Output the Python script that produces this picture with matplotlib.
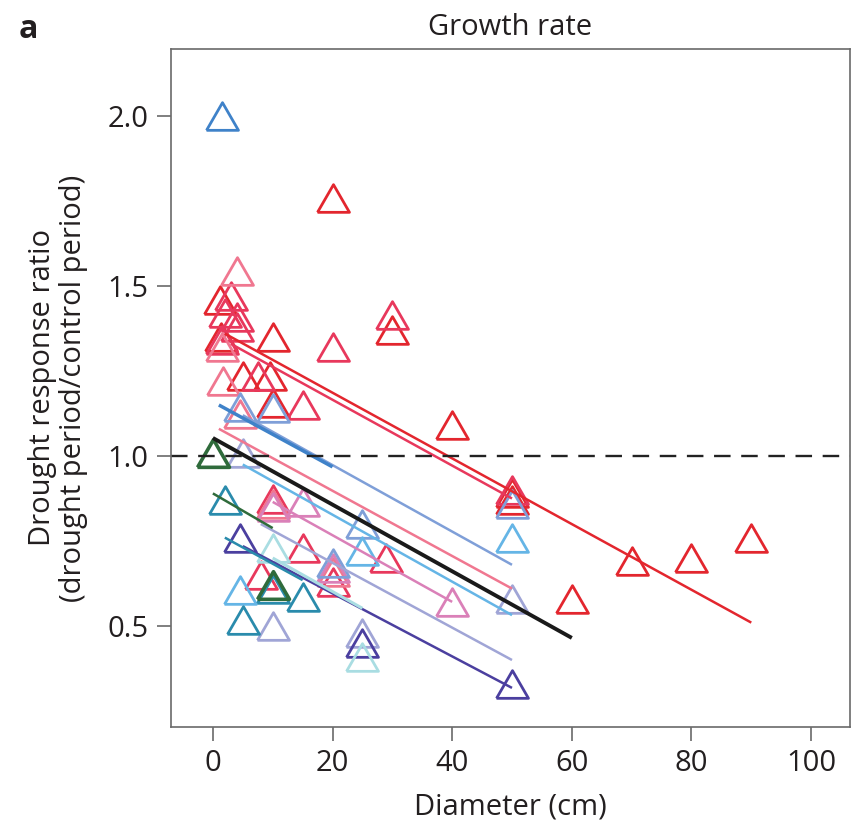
import numpy as np
import matplotlib
matplotlib.use("Agg")
import matplotlib.pyplot as plt

plt.rcParams['font.family'] = ['Open Sans', 'DejaVu Sans']

# triangles, one pair of lists per colour group (diameter cm, response ratio)
red_x = [1.2, 1.4, 10, 5, 9.5, 10, 20, 30, 40, 50, 50, 60, 70, 80, 90]
red_y = [1.46, 1.35, 1.35, 1.235, 1.235, 1.155, 1.76, 1.37, 1.09, 0.89, 0.87, 0.58, 0.69, 0.70, 0.76]
pinkred_x = [3, 2, 4, 4, 1.5, 7.5, 15, 20, 30, 50, 10, 15, 29, 8, 20]
pinkred_y = [1.47, 1.42, 1.41, 1.38, 1.34, 1.235, 1.15, 1.32, 1.415, 0.90, 0.875, 0.73, 0.70, 0.65, 0.63]
lightpink_x = [4, 1.5, 1.7, 4.5, 10, 20]
lightpink_y = [1.545, 1.32, 1.22, 1.125, 0.86, 0.66]
magenta_x = [15, 20, 40, 10]
magenta_y = [0.866, 0.67, 0.57, 0.85]
steel_x = [4.5, 10, 25, 50, 20]
steel_y = [1.145, 1.14, 0.80, 0.86, 0.685]
blue_x = [1.5]
blue_y = [2.0]
lightblue_x = [25, 50, 4.5]
lightblue_y = [0.72, 0.76, 0.606]
lavender_x = [5, 10, 25, 50]
lavender_y = [1.01, 0.50, 0.48, 0.58]
purple_x = [4.5, 25, 50]
purple_y = [0.758, 0.45, 0.33]
teal_x = [2, 10, 15, 5]
teal_y = [0.87, 0.61, 0.586, 0.518]
green_x = [0, 10]
green_y = [1.01, 0.62]
cyan_x = [10, 25]
cyan_y = [0.728, 0.41]

# fitted lines (start and end)
red_fit_x, red_fit_y = [2, 90], [1.36, 0.51]
pinkred_fit_x, pinkred_fit_y = [3, 50], [1.33, 0.875]
lightpink_fit_x, lightpink_fit_y = [1, 50], [1.08, 0.61]
magenta_fit_x, magenta_fit_y = [10, 40], [0.865, 0.571]
steel_fit_x, steel_fit_y = [5, 50], [1.12, 0.68]
blue_fit_x, blue_fit_y = [1, 20], [1.15, 0.968]
lightblue_fit_x, lightblue_fit_y = [5, 50], [0.975, 0.532]
lavender_fit_x, lavender_fit_y = [8, 50], [0.80, 0.40]
purple_fit_x, purple_fit_y = [5, 50], [0.735, 0.318]
teal_fit_x, teal_fit_y = [2, 15], [0.76, 0.635]
green_fit_x, green_fit_y = [0, 10], [0.89, 0.788]
cyan_fit_x, cyan_fit_y = [10, 25], [0.70, 0.552]
all_fit_x, all_fit_y = [0, 60], [1.053, 0.465]

colors = {
    'red': '#e3262e', 'pinkred': '#e8385c', 'lightpink': '#f07790',
    'magenta': '#da80b8', 'steel': '#7f9fd8', 'blue': '#3f82c9',
    'lightblue': '#65b5e6', 'lavender': '#a0a5d6', 'purple': '#4b3f9f',
    'teal': '#2a8bac', 'green': '#2f6b3b', 'cyan': '#a9dde2',
}

groups = [
    ('red', red_x, red_y), ('pinkred', pinkred_x, pinkred_y),
    ('lightpink', lightpink_x, lightpink_y), ('magenta', magenta_x, magenta_y),
    ('steel', steel_x, steel_y), ('blue', blue_x, blue_y),
    ('lightblue', lightblue_x, lightblue_y), ('lavender', lavender_x, lavender_y),
    ('purple', purple_x, purple_y), ('teal', teal_x, teal_y),
    ('cyan', cyan_x, cyan_y), ('green', green_x, green_y),
]
fits = [
    ('red', red_fit_x, red_fit_y, 1.8), ('pinkred', pinkred_fit_x, pinkred_fit_y, 1.8),
    ('lightpink', lightpink_fit_x, lightpink_fit_y, 1.8),
    ('magenta', magenta_fit_x, magenta_fit_y, 1.8),
    ('steel', steel_fit_x, steel_fit_y, 1.8), ('blue', blue_fit_x, blue_fit_y, 2.5),
    ('lightblue', lightblue_fit_x, lightblue_fit_y, 1.8),
    ('lavender', lavender_fit_x, lavender_fit_y, 1.8),
    ('purple', purple_fit_x, purple_fit_y, 1.8), ('teal', teal_fit_x, teal_fit_y, 1.8),
    ('cyan', cyan_fit_x, cyan_fit_y, 2.2), ('green', green_fit_x, green_fit_y, 1.8),
]

# equilateral triangle marker
tri = [(-1, -0.866), (1, -0.866), (0, 0.866), (-1, -0.866)]

fig = plt.figure(figsize=(8.51, 8.38), dpi=100)
ax = fig.add_axes([171 / 851, 1 - 727 / 838, 679 / 851, 678 / 838])

for name, xs, ys in groups:
    mew = 2.6 if name == 'green' else 2.0
    ax.plot(xs, ys, linestyle='none', marker=tri, markersize=23,
            markerfacecolor='none', markeredgecolor=colors[name], markeredgewidth=mew)

for name, xs, ys, lw in fits:
    ax.plot(xs, ys, color=colors[name], lw=lw, solid_capstyle='butt')

ax.plot(all_fit_x, all_fit_y, color='#1a1a1a', lw=2.8, solid_capstyle='butt')
ax.axhline(1.0, color='#222222', lw=1.7, dashes=(7, 4.5))

ax.set_xlim(-7.0, 106.5)
ax.set_ylim(0.203, 2.197)
ax.set_xticks([0, 20, 40, 60, 80, 100])
ax.set_yticks([0.5, 1.0, 1.5, 2.0])
ax.set_yticklabels(['0.5', '1.0', '1.5', '2.0'])
for s in ax.spines.values():
    s.set_color('#6a6a6a')
    s.set_linewidth(1.2)
ax.tick_params(direction='out', length=10, width=1.2, color='#6a6a6a',
               labelsize=21, labelcolor='#231f20', pad=6)

ax.set_xlabel('Diameter (cm)', fontsize=21, color='#231f20', labelpad=10)
ax.set_ylabel('Drought response ratio\n(drought period/control period)',
              fontsize=21, color='#231f20', labelpad=14, linespacing=1.1)
ax.set_title('Growth rate', fontsize=21, color='#231f20', pad=10)
fig.text(0.022, 0.985, 'a', fontsize=23, fontweight='bold', va='top', color='#231f20')

fig.savefig('out.png', dpi=100)
